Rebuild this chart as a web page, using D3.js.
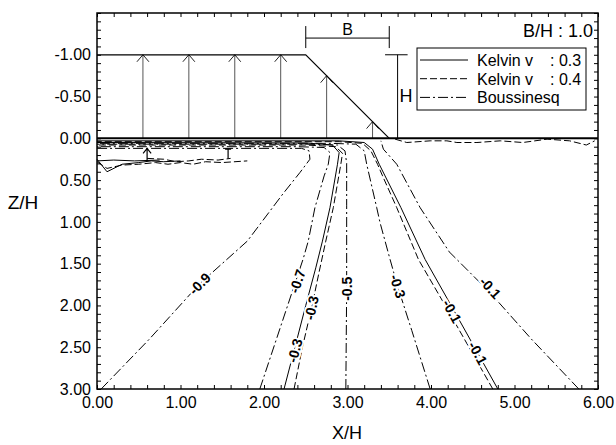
<!DOCTYPE html>
<html>
<head>
<meta charset="utf-8">
<script src="https://cdn.jsdelivr.net/npm/d3@7"></script>
<style>
    body { margin: 0; background: #fff; }
    svg { font-family: 'Liberation Sans', Arial, sans-serif; }
    .axis path { display: none; }
    .axis line { stroke: #000; }
    .axis text { font-size: 16px; fill: #000; }
</style>
</head>
<body>
<svg id="chart" width="616" height="445"></svg>
<script>
'use strict';

// embankment load (X/H, Z/H)
var loadProfile = [[0, -1], [2.5, -1], [3.5, 0]];
var arrowX = [0.55, 1.1, 1.65, 2.2, 2.75, 3.3];

// stress contours as [X/H, Z/H]
var bous09 = [[0.05, 3.0], [0.63, 2.4], [1.23, 1.74], [1.8, 1.23], [2.23, 0.66], [2.43, 0.41],
    [2.55, 0.25], [2.54, 0.15], [2.45, 0.12], [0, 0.12]];
var bous07 = [[1.95, 3.0], [2.2, 2.25], [2.38, 1.71], [2.47, 1.44], [2.53, 1.23], [2.61, 0.83],
    [2.72, 0.45], [2.77, 0.31], [2.79, 0.17], [2.72, 0.11], [2.4, 0.10], [0, 0.10]];
var bous05 = [[2.98, 3.0], [2.99, 1.8], [2.99, 0.8], [2.99, 0.3], [2.97, 0.15], [2.88, 0.08],
    [2.5, 0.07], [0, 0.07]];
var bous03 = [[3.99, 3.0], [3.77, 2.3], [3.6, 1.77], [3.51, 1.45], [3.39, 1.01], [3.35, 0.83],
    [3.23, 0.31], [3.2, 0.15], [3.1, 0.07], [2.8, 0.06], [0, 0.06]];
var bous01 = [[5.77, 3.0], [5.2, 2.4], [4.71, 1.85], [4.22, 1.36], [3.87, 0.83], [3.59, 0.31],
    [3.43, 0.13], [3.4, 0.03]];

var kel3m03 = [[2.24, 3.0], [2.36, 2.54], [2.5, 2.0], [2.62, 1.55], [2.70, 1.23], [2.79, 0.83],
    [2.88, 0.31], [2.9, 0.17], [2.82, 0.08], [2.5, 0.055], [0, 0.05]];
var kel3m01 = [[4.80, 3.0], [4.56, 2.57], [4.28, 2.07], [3.93, 1.45], [3.64, 0.83], [3.45, 0.45],
    [3.38, 0.31], [3.3, 0.13], [3.2, 0.05], [2.9, 0.03], [0, 0.03]];
var kel3wavy = [[0, 0.25], [0.12, 0.4], [0.3, 0.31], [0.5, 0.29], [0.65, 0.27], [0.8, 0.28], [1.0, 0.27]];
var kel3flat = [[0, 0.27], [0.2, 0.26], [0.45, 0.27], [0.75, 0.26]];

var kel4m03 = [[2.36, 3.0], [2.46, 2.5], [2.57, 2.03], [2.66, 1.6], [2.74, 1.23], [2.83, 0.83],
    [2.92, 0.31], [2.94, 0.18], [2.86, 0.1], [2.5, 0.08], [0, 0.08]];
var kel4m01 = [[4.74, 3.0], [4.21, 2.07], [3.85, 1.45], [3.59, 0.83], [3.42, 0.45], [3.36, 0.31],
    [3.28, 0.15], [3.18, 0.06], [2.9, 0.04], [0, 0.04]];
var kel4wavy = [[0, 0.28], [0.12, 0.36], [0.3, 0.32], [0.5, 0.31], [0.7, 0.29], [0.85, 0.31],
    [1.0, 0.29], [1.15, 0.31], [1.3, 0.28], [1.5, 0.29], [1.8, 0.27]];
var kel4wavy2 = [[0.6, 0.24], [0.8, 0.25], [0.95, 0.28], [1.1, 0.27], [1.25, 0.25], [1.45, 0.26], [1.6, 0.24]];
var kel4surface = [[3.57, 0.01], [3.71, 0.05], [3.99, 0.03], [4.19, 0.03], [4.31, 0.05], [4.55, 0.05],
    [4.83, 0.03], [5.10, 0.05], [5.39, 0.01], [5.66, 0.03], [5.86, 0.08], [5.96, 0.03]];

// contour labels: [X/H, Z/H, angle, text]
var contourLabels = [
    [1.23, 1.74, -45, '-0.9'],
    [2.40, 1.71, -72, '-0.7'],
    [2.57, 2.03, -78, '-0.3'],
    [2.37, 2.54, -75, '-0.3'],
    [2.99, 1.80, -90, '-0.5'],
    [3.60, 1.77, 73, '-0.3'],
    [4.25, 2.07, 61, '-0.1'],
    [4.56, 2.57, 61, '-0.1'],
    [4.71, 1.79, 47, '-0.1']
];

var seriesNames = ['Kelvin v', 'Kelvin v', 'Boussinesq'];
var seriesNu = [': 0.3', ': 0.4', ''];

var styles = {
    k3: {dash: null},
    k4: {dash: '7,3'},
    bq: {dash: '10,3,2,3'}
};

var contours = [
    {pts: bous09, s: 'bq'}, {pts: bous07, s: 'bq'}, {pts: bous05, s: 'bq'},
    {pts: bous03, s: 'bq'}, {pts: bous01, s: 'bq'},
    {pts: kel3m03, s: 'k3'}, {pts: kel3m01, s: 'k3'}, {pts: kel3wavy, s: 'k3'}, {pts: kel3flat, s: 'k3'},
    {pts: kel4m03, s: 'k4'}, {pts: kel4m01, s: 'k4'}, {pts: kel4wavy, s: 'k4'},
    {pts: kel4wavy2, s: 'k4'}, {pts: kel4surface, s: 'k4'}
];

var svg = d3.select('#chart');
var x = d3.scaleLinear().domain([0, 6]).range([97, 598]);
var y = d3.scaleLinear().domain([-1.5, 3]).range([13, 389]);

var line = d3.line()
    .x(function(d) { return x(d[0]); })
    .y(function(d) { return y(d[1]); });

function isStep(v, step) {
    return Math.abs(v / step - Math.round(v / step)) < 1e-6;
}

// axes, ticks pointing inwards on all sides
var xTicks = d3.range(0, 6.0001, 0.2);
var yTicks = d3.range(-1.5, 3.0001, 0.1);

svg.append('g').attr('class', 'axis')
    .attr('transform', 'translate(0,389)')
    .call(d3.axisBottom(x).tickValues(xTicks).tickSize(-4).tickPadding(8)
        .tickFormat(function(d) { return isStep(d, 1) ? d.toFixed(2) : ''; }));
svg.append('g').attr('class', 'axis')
    .attr('transform', 'translate(0,13)')
    .call(d3.axisTop(x).tickValues(xTicks).tickSize(-4).tickFormat(''));
svg.append('g').attr('class', 'axis')
    .attr('transform', 'translate(97,0)')
    .call(d3.axisLeft(y).tickValues(yTicks).tickSize(-4).tickPadding(6)
        .tickFormat(function(d) { return isStep(d, 0.5) && d > -1.2 ? d.toFixed(2) : ''; }));
svg.append('g').attr('class', 'axis')
    .attr('transform', 'translate(598,0)')
    .call(d3.axisRight(y).tickValues(yTicks).tickSize(-4).tickFormat(''));

svg.append('rect')
    .attr('x', 97).attr('y', 13)
    .attr('width', 501).attr('height', 376)
    .attr('fill', 'none').attr('stroke', '#000').attr('stroke-width', 1.5);

svg.append('text').attr('x', 347).attr('y', 439)
    .attr('text-anchor', 'middle').attr('font-size', 18).text('X/H');
svg.append('text').attr('x', 23).attr('y', 209)
    .attr('text-anchor', 'middle').attr('font-size', 19).text('Z/H');

// load arrows
var arrows = svg.append('g');
arrowX.forEach(function(ax) {
    var top = ax <= 2.5 ? -1 : -(3.5 - ax);
    arrows.append('line')
        .attr('x1', x(ax)).attr('x2', x(ax))
        .attr('y1', y(0)).attr('y2', y(top))
        .attr('stroke', '#555').attr('stroke-width', 1);
    arrows.append('path')
        .attr('d', 'M' + (x(ax) - 6) + ',' + (y(top) + 7) + 'L' + x(ax) + ',' + y(top) +
            'L' + (x(ax) + 6) + ',' + (y(top) + 7))
        .attr('fill', 'none').attr('stroke', '#222').attr('stroke-width', 1);
});

svg.append('path').datum(loadProfile)
    .attr('d', line).attr('fill', 'none').attr('stroke', '#000').attr('stroke-width', 1.2);

// B and H dimensions
svg.append('path')
    .attr('d', 'M' + x(2.5) + ',' + (y(-1.2) - 12) + 'V' + (y(-1.2) + 10) +
        'M' + x(2.5) + ',' + y(-1.2) + 'H' + x(3.5) +
        'M' + x(3.5) + ',' + (y(-1.2) - 12) + 'V' + (y(-1.2) + 10))
    .attr('fill', 'none').attr('stroke', '#000');
svg.append('text').attr('x', x(3.0)).attr('y', 35)
    .attr('text-anchor', 'middle').attr('font-size', 16).text('B');
svg.append('path')
    .attr('d', 'M' + x(3.45) + ',' + y(-1) + 'H' + x(3.72) +
        'M' + x(3.6) + ',' + y(-1) + 'V' + y(0))
    .attr('fill', 'none').attr('stroke', '#000');
svg.append('text').attr('x', x(3.6) + 2).attr('y', 102)
    .attr('font-size', 18).text('H');

svg.append('text').attr('x', 593).attr('y', 37)
    .attr('text-anchor', 'end').attr('font-size', 18).text('B/H : 1.0');

// contours
svg.append('g').selectAll('path')
    .data(contours)
    .join('path')
    .attr('d', function(d) { return line(d.pts); })
    .attr('fill', 'none')
    .attr('stroke', '#000')
    .attr('stroke-width', 1)
    .attr('stroke-dasharray', function(d) { return styles[d.s].dash; });

// small contour marks near the surface
svg.append('path')
    .attr('d', 'M' + x(0.6) + ',' + y(0.27) + 'V' + y(0.12) +
        'M' + (x(0.6) - 4) + ',' + (y(0.12) + 5) + 'L' + x(0.6) + ',' + y(0.12) +
        'L' + (x(0.6) + 4) + ',' + (y(0.12) + 5) +
        'M' + x(1.57) + ',' + y(0.24) + 'V' + y(0.13) +
        'M' + (x(1.57) - 3) + ',' + y(0.13) + 'H' + (x(1.57) + 3))
    .attr('fill', 'none').attr('stroke', '#000').attr('stroke-width', 1.2);

// ground surface
svg.append('line')
    .attr('x1', x(0)).attr('x2', x(6))
    .attr('y1', y(0)).attr('y2', y(0))
    .attr('stroke', '#000').attr('stroke-width', 2);

svg.append('g').selectAll('text')
    .data(contourLabels)
    .join('text')
    .attr('transform', function(d) {
        return 'translate(' + x(d[0]) + ',' + y(d[1]) + ') rotate(' + d[2] + ')';
    })
    .attr('text-anchor', 'middle')
    .attr('dy', '0.35em')
    .attr('font-size', 14)
    .attr('font-weight', 'bold')
    .attr('stroke', '#fff')
    .attr('stroke-width', 4)
    .attr('paint-order', 'stroke')
    .text(function(d) { return d[3]; });

// legend
var legend = svg.append('g');
legend.append('rect')
    .attr('x', 417).attr('y', 48).attr('width', 169).attr('height', 62)
    .attr('fill', '#fff').attr('stroke', '#000');
var legendKeys = ['k3', 'k4', 'bq'];
legendKeys.forEach(function(k, i) {
    var ly = 60 + i * 18.7;
    legend.append('line')
        .attr('x1', 420).attr('x2', 468).attr('y1', ly).attr('y2', ly)
        .attr('stroke', '#000').attr('stroke-dasharray', styles[k].dash);
    legend.append('text').attr('x', 477).attr('y', ly + 6)
        .attr('font-size', 16).text(seriesNames[i]);
    legend.append('text').attr('x', 550).attr('y', ly + 6)
        .attr('font-size', 16).text(seriesNu[i]);
});
</script>
</body>
</html>
